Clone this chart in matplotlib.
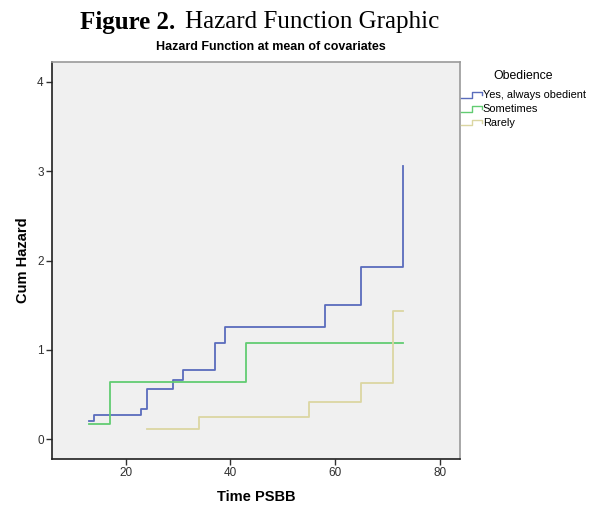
import matplotlib
matplotlib.use("Agg")
import matplotlib.pyplot as plt
from matplotlib.legend_handler import HandlerBase
from matplotlib.lines import Line2D

# cumulative hazard step data
yes_time = [13, 14, 23, 24, 29, 31, 37, 39, 58, 65, 73]
yes_haz = [0.205, 0.27, 0.336, 0.563, 0.664, 0.776, 1.075, 1.254, 1.504, 1.93, 3.06]

some_time = [13, 17, 43, 73]
some_haz = [0.171, 0.642, 1.075, 1.075]

rare_time = [24, 34, 55, 65, 71, 73]
rare_haz = [0.112, 0.246, 0.414, 0.627, 1.44, 1.44]

labels = ["Yes, always obedient", "Sometimes", "Rarely"]
colors = ["#5a6cbc", "#62cc72", "#dbd6a2"]
x_ticks = [20, 40, 60, 80]
y_ticks = [0, 1, 2, 3, 4]


class StepHandler(HandlerBase):
    # small step glyph like the SPSS legend
    def create_artists(self, legend, orig_handle, xdescent, ydescent,
                       width, height, fontsize, trans):
        x0 = -xdescent
        y0 = -ydescent
        xs = [x0, x0 + 0.55 * width, x0 + 0.55 * width, x0 + width, x0 + width]
        ys = [y0 + 0.1 * height, y0 + 0.1 * height, y0 + 0.8 * height,
              y0 + 0.8 * height, y0 + 0.45 * height]
        ln = Line2D(xs, ys, color=orig_handle.get_color(), lw=1.0, transform=trans)
        return [ln]


fig = plt.figure(figsize=(5.94, 5.07), dpi=100)
fig.patch.set_facecolor("white")
ax = fig.add_axes([52 / 594, 48 / 507, 408 / 594, 397 / 507])
ax.set_facecolor("#f0f0f0")

series = [(yes_time, yes_haz), (some_time, some_haz), (rare_time, rare_haz)]
handles = []
for (t, h), lab, col in zip(series, labels, colors):
    ln, = ax.step(t, h, where="post", color=col, lw=1.3, label=lab)
    handles.append(ln)

ax.set_xlim(5.9, 83.9)
ax.set_ylim(-0.22, 4.22)
ax.set_xticks(x_ticks)
ax.set_yticks(y_ticks)

for side in ["left", "bottom"]:
    ax.spines[side].set_color("#202020")
    ax.spines[side].set_linewidth(1.2)
for side in ["top", "right"]:
    ax.spines[side].set_color("#9a9a9a")
    ax.spines[side].set_linewidth(1.2)

ax.tick_params(direction="out", length=4, width=1, colors="#303030",
               labelsize=8.5, labelcolor="#303030", pad=2)
for lbl in ax.get_xticklabels() + ax.get_yticklabels():
    lbl.set_family("Liberation Sans")

ax.set_xlabel("Time PSBB", family="Liberation Sans", fontweight="bold",
              fontsize=10.5, labelpad=8)
ax.set_ylabel("Cum Hazard", family="Liberation Sans", fontweight="bold",
              fontsize=10.5, labelpad=5)

# caption: bold "Figure 2." followed by plain text
t1 = fig.text(80 / 594, 1 - 22 / 507, "Figure 2.", ha="left", va="center",
              family="Liberation Serif", fontweight="bold", fontsize=18)
fig.canvas.draw()
bb = t1.get_window_extent()
fig.text((bb.x1 + 10) / 594, 1 - 22 / 507, "Hazard Function Graphic",
         ha="left", va="center", family="Liberation Serif", fontsize=18)

fig.text(271 / 594, 1 - 47 / 507, "Hazard Function at mean of covariates",
         ha="center", va="center", family="Liberation Sans", fontweight="bold",
         fontsize=9)

leg = fig.legend(handles=handles, labels=labels, title="Obedience",
                 loc="upper left", bbox_to_anchor=(461 / 594, 1 - 70 / 507),
                 frameon=False, title_fontsize=8.8,
                 handlelength=1.9, handletextpad=0.1, labelspacing=0.36,
                 borderpad=0, borderaxespad=0,
                 handler_map={Line2D: StepHandler()},
                 prop={"family": "Liberation Sans", "size": 7.9})
leg.get_title().set_family("Liberation Sans")
leg._legend_box.sep = 6

fig.savefig("out.png", dpi=100)
